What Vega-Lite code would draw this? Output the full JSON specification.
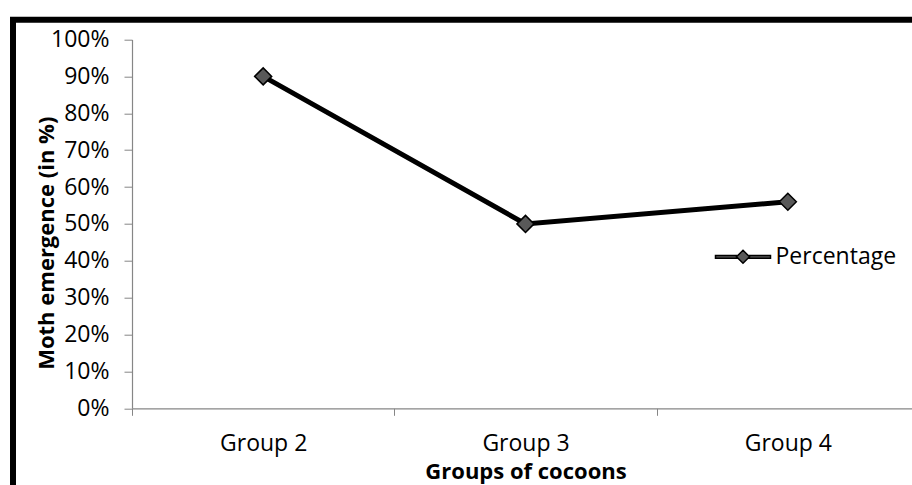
{
  "$schema": "https://vega.github.io/schema/vega-lite/v6.json",
  "width": 909,
  "height": 475,
  "autosize": {"type": "none"},
  "padding": {"left": 13, "top": 19.7, "right": -10, "bottom": -9.7},
  "background": "white",
  "config": {
    "font": "Open Sans",
    "view": {"stroke": "black", "strokeWidth": 6}
  },
  "data": {
    "values": [
      {"group": "Group 2", "pct": 0.90, "series": "Percentage"},
      {"group": "Group 3", "pct": 0.50, "series": "Percentage"},
      {"group": "Group 4", "pct": 0.56, "series": "Percentage"}
    ]
  },
  "encoding": {
    "x": {
      "field": "group",
      "type": "nominal",
      "sort": null,
      "scale": {"range": [119, 906], "paddingInner": 0, "paddingOuter": 0},
      "axis": {
        "orient": "bottom",
        "offset": -86.4,
        "tickBand": "extent",
        "tickSize": 7,
        "tickColor": "#868686",
        "domainColor": "#868686",
        "domainWidth": 1.2,
        "labelAngle": 0,
        "labelFontSize": 23,
        "labelColor": "black",
        "labelPadding": 17,
        "grid": false,
        "title": "Groups of cocoons",
        "titleFontSize": 22,
        "titleFontWeight": "bold",
        "titleColor": "black",
        "titleBaseline": "alphabetic",
        "titleY": 70
      }
    },
    "y": {
      "field": "pct",
      "type": "quantitative",
      "scale": {"domain": [0, 1], "range": [388.6, 19.8]},
      "axis": {
        "orient": "left",
        "offset": -119,
        "values": [0, 0.1, 0.2, 0.3, 0.4, 0.5, 0.6, 0.7, 0.8, 0.9, 1],
        "format": ".0%",
        "tickSize": 8,
        "tickColor": "#868686",
        "domainColor": "#868686",
        "domainWidth": 1.2,
        "labelFontSize": 23,
        "labelColor": "black",
        "labelPadding": 15,
        "grid": false,
        "title": "Moth emergence (in %)",
        "titleFontSize": 22,
        "titleFontWeight": "bold",
        "titleColor": "black",
        "titleAngle": -90,
        "titleAlign": "center",
        "titleBaseline": "alphabetic",
        "titleX": -79,
        "titleY": 223
      }
    }
  },
  "layer": [
    {
      "mark": {"type": "line", "color": "black", "strokeWidth": 5}
    },
    {
      "mark": {
        "type": "point",
        "shape": "diamond",
        "filled": true,
        "size": 290,
        "opacity": 1,
        "stroke": "black",
        "strokeWidth": 1.5
      },
      "encoding": {
        "color": {
          "field": "series",
          "type": "nominal",
          "scale": {"range": ["#595959"]},
          "legend": {
            "orient": "none",
            "legendX": 701.5,
            "legendY": 208.6,
            "title": null,
            "padding": 0,
            "symbolType": "M-1,-0.05H-0.236V0.05H-1Z M0,-0.236L0.236,0L0,0.236L-0.236,0Z M0.236,-0.05H1V0.05H0.236Z",
            "symbolSize": 3025,
            "symbolFillColor": "black",
            "symbolStrokeColor": "black",
            "symbolStrokeWidth": 1.5,
            "symbolOpacity": 1,
            "labelFontSize": 23,
            "labelColor": "black",
            "labelOffset": 4
          }
        }
      }
    }
  ]
}
